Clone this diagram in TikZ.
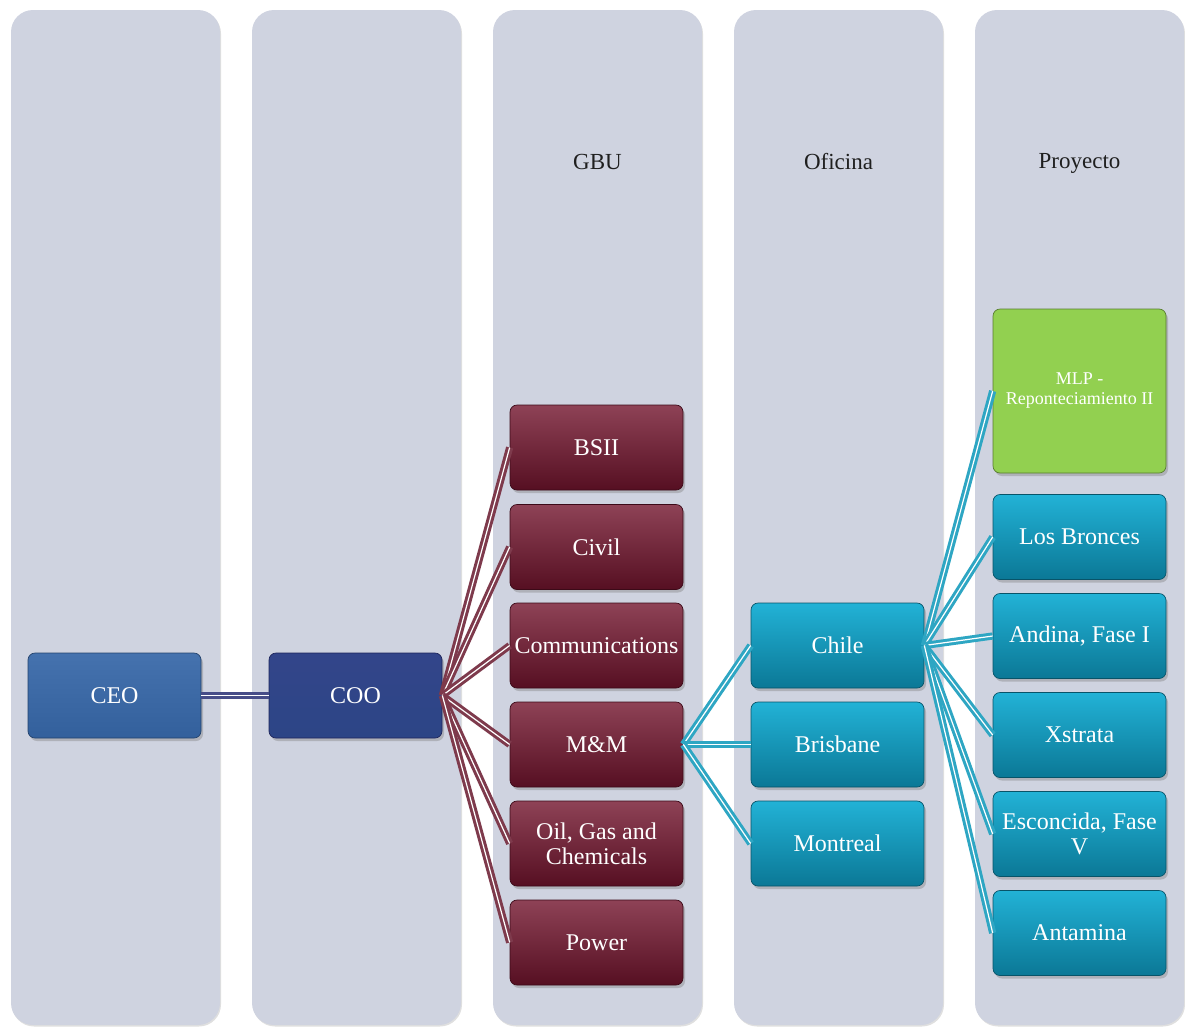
\documentclass[tikz,border=0pt]{standalone}
\usepackage{fontspec}
\setmainfont{Liberation Serif}
\usetikzlibrary{shadows}

\definecolor{colfill}{HTML}{CFD3E0}
\definecolor{ceotop}{HTML}{4572AE}
\definecolor{ceobot}{HTML}{33609C}
\definecolor{cootop}{HTML}{33458A}
\definecolor{coomid}{HTML}{1E255C}
\definecolor{coobot}{HTML}{2C4586}
\definecolor{gbutop}{HTML}{8E4256}
\definecolor{gbubot}{HTML}{560F22}
\definecolor{teatop}{HTML}{22B2D6}
\definecolor{teabot}{HTML}{0B7896}
\definecolor{mlpfill}{HTML}{92D050}
\definecolor{redlink}{HTML}{7E3A4C}
\definecolor{tealink}{HTML}{2EA6C3}
\definecolor{bluelink}{HTML}{474D88}

\tikzset{
  column/.style={fill=colfill, rounded corners=22pt,
    drop shadow={shadow xshift=1pt, shadow yshift=-1.5pt, opacity=0.25}},
  head/.style={font=\fontsize{23}{26}\selectfont, text=black!88},
  box/.style={rounded corners=7pt, minimum width=173pt, minimum height=85pt,
    inner sep=2pt, text=white, align=center, font=\fontsize{24}{25}\selectfont,
    line width=0.7pt,
    drop shadow={shadow xshift=2pt, shadow yshift=-3pt, opacity=0.4}},
  ceobox/.style={box, draw=ceobot!70!black, top color=ceotop, bottom color=ceobot},
  coobox/.style={box, draw=coomid, top color=cootop, middle color=coomid, bottom color=coobot},
  gbubox/.style={box, draw=gbubot!70!black, top color=gbutop, bottom color=gbubot},
  teabox/.style={box, draw=teabot!70!black, top color=teatop, bottom color=teabot},
  mlpbox/.style={box, draw=mlpfill!60!black, fill=mlpfill, minimum height=164pt,
    font=\fontsize{18}{20}\selectfont},
  link/.style={line width=3pt, double=white, double distance=1.2pt},
}

\begin{document}
\begin{tikzpicture}[x=1pt,y=1pt,yscale=-1,xscale=1]
\useasboundingbox (0,0) rectangle (1185,1026);

%Columns
\path[column] (11,10) rectangle (220,1025);
\path[column] (252,10) rectangle (461,1025);
\path[column] (493,10) rectangle (702,1025);
\path[column] (734,10) rectangle (943,1025);
\path[column] (975,10) rectangle (1184,1025);

% Text Node
\node[head] (hgbu) at (597.5,162) {GBU};
% Text Node
\node[head] (hofi) at (838.5,162) {Oficina};
% Text Node
\node[head] (hpro) at (1079.5,163) {Proyecto};

%Boxes
\node[ceobox] (ceo) at (114.5,695.5) {CEO};
\node[coobox] (coo) at (355.5,695.5) {COO};

\node[gbubox] (bsii) at (596.5,447.5) {BSII};
\node[gbubox] (civil) at (596.5,547) {Civil};
\node[gbubox] (comm) at (596.5,645.5) {Communications};
\node[gbubox] (mm) at (596.5,744.5) {M\&M};
\node[gbubox] (oil) at (596.5,843.5) {Oil, Gas and\\Chemicals};
\node[gbubox] (power) at (596.5,942.5) {Power};

\node[teabox] (chile) at (837.5,645.5) {Chile};
\node[teabox] (bris) at (837.5,744.5) {Brisbane};
\node[teabox] (mont) at (837.5,843.5) {Montreal};

\node[mlpbox] (mlp) at (1079.5,391) {MLP -\\Reponteciamiento II};
\node[teabox] (bron) at (1079.5,537) {Los Bronces};
\node[teabox] (andi) at (1079.5,636) {Andina, Fase I};
\node[teabox] (xstr) at (1079.5,735) {Xstrata};
\node[teabox] (esco) at (1079.5,834) {Esconcida, Fase\\V};
\node[teabox] (anta) at (1079.5,933) {Antamina};

%Connectors
\draw[link, bluelink] (ceo.east) -- (coo.west);

\draw[link, redlink] (coo.east) -- (bsii.west);
\draw[link, redlink] (coo.east) -- (civil.west);
\draw[link, redlink] (coo.east) -- (comm.west);
\draw[link, redlink] (coo.east) -- (mm.west);
\draw[link, redlink] (coo.east) -- (oil.west);
\draw[link, redlink] (coo.east) -- (power.west);

\draw[link, tealink] (mm.east) -- (chile.west);
\draw[link, tealink] (mm.east) -- (bris.west);
\draw[link, tealink] (mm.east) -- (mont.west);

\draw[link, tealink] (chile.east) -- (mlp.west);
\draw[link, tealink] (chile.east) -- (bron.west);
\draw[link, tealink] (chile.east) -- (andi.west);
\draw[link, tealink] (chile.east) -- (xstr.west);
\draw[link, tealink] (chile.east) -- (esco.west);
\draw[link, tealink] (chile.east) -- (anta.west);

\end{tikzpicture}
\end{document}
